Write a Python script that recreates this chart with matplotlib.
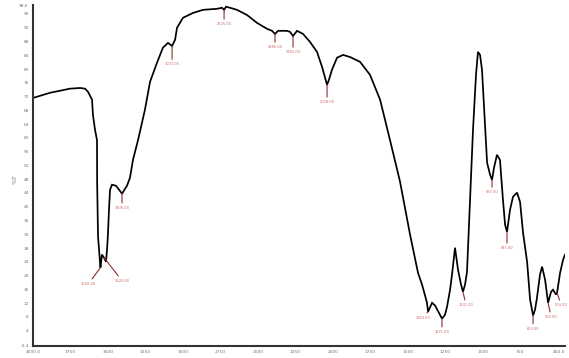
import matplotlib
matplotlib.use("Agg")
import matplotlib.pyplot as plt

# spectrum trace (wavenumber cm-1, %T)
wavenumber = [4000, 3887, 3753, 3686, 3653, 3633, 3606, 3600, 3586, 3573,
              3572, 3566, 3560, 3553, 3550, 3540, 3526, 3513, 3506, 3500,
              3493, 3486, 3473, 3446, 3406, 3373, 3353, 3333, 3299, 3253,
              3219, 3173, 3133, 3099, 3072, 3052, 3039, 2999, 2932, 2866,
              2772, 2739, 2725, 2712, 2685, 2639, 2572, 2505, 2439, 2405,
              2385, 2365, 2305, 2285, 2265, 2238, 2198, 2152, 2105, 2071,
              2051, 2038, 2025, 2005, 1971, 1931, 1885, 1818, 1751, 1684,
              1618, 1551, 1484, 1431, 1404, 1371, 1364, 1337, 1317, 1284,
              1271, 1251, 1237, 1217, 1204, 1184, 1164, 1144, 1131, 1117,
              1104, 1084, 1064, 1044, 1031, 1017, 1004, 984, 970, 950,
              937, 924, 904, 884, 864, 850, 837, 817, 797, 770,
              750, 730, 703, 683, 663, 650, 637, 617, 603, 583,
              563, 543, 530, 510, 503, 483, 463, 450]
transmittance = [71.6, 73.1, 74.3, 74.5, 74.3, 73.4, 71.1, 66.7, 62.3, 59.4,
                 47.0, 31.3, 28.1, 24.0, 22.3, 26.1, 25.2, 24.0, 27.5, 31.9,
                 39.1, 44.9, 46.4, 46.1, 43.8, 46.1, 48.4, 53.6, 59.4, 68.2,
                 76.3, 81.8, 86.2, 87.6, 86.7, 88.5, 92.0, 94.9, 96.3, 97.2,
                 97.5, 97.8, 97.2, 98.1, 97.8, 97.2, 95.7, 93.4, 91.7, 91.1,
                 90.2, 91.1, 91.1, 90.8, 89.6, 91.1, 90.2, 87.9, 85.0, 80.6,
                 77.4, 75.4, 76.9, 79.8, 83.3, 84.1, 83.5, 82.1, 78.3, 71.1,
                 59.4, 47.3, 31.9, 20.8, 17.4, 12.1, 9.5, 12.1, 11.3, 8.6,
                 7.5, 8.6, 11.0, 15.9, 20.3, 28.1, 21.7, 17.4, 15.3, 17.4,
                 21.1, 42.0, 62.3, 78.3, 85.0, 84.1, 79.8, 63.8, 52.8, 49.3,
                 47.8, 51.3, 55.1, 53.6, 42.0, 34.8, 32.7, 39.1, 42.9, 44.1,
                 41.4, 32.4, 24.0, 13.0, 8.4, 10.1, 13.6, 20.3, 22.6, 18.8,
                 12.1, 15.3, 15.9, 14.5, 15.0, 20.8, 24.6, 26.1]

# labelled bands
peak_wn = [3550, 3526, 3406, 3072, 2725, 2385, 2265, 2038, 1364, 1271,
           1131, 937, 837, 663, 563, 503]
peak_t = [22.3, 25.2, 43.8, 86.7, 97.2, 90.2, 89.6, 75.4, 9.5, 7.5,
          15.3, 47.8, 32.7, 8.4, 12.1, 15.0]
peak_offsets = [(-12, -14), (18, -21), (0, -12), (0, -16), (0, -12), (0, -11),
                (0, -14), (0, -15), (-5, -4), (0, -11), (3, -11), (0, -10),
                (0, -14), (0, -11), (3, -12), (4, -10)]

x_ticks = [4000, 3750, 3500, 3250, 3000, 2750, 2500, 2250, 2000, 1750,
           1500, 1250, 1000, 750, 450]
x_ticklabels = ["4000.0", "3750", "3500", "3250", "3000", "2750", "2500",
                "2250", "2000", "1750", "1500", "1250", "1000", "750", "450.0"]
y_ticks = [-0.4] + list(range(4, 97, 4)) + [98.6]
y_ticklabels = ["-0.4"] + [str(v) for v in range(4, 97, 4)] + ["98.6"]

fig = plt.figure(figsize=(5.69, 3.58), dpi=100)
ax = fig.add_axes([0.058, 0.034, 0.935, 0.952])

ax.plot(wavenumber, transmittance, color="black", lw=1.25, solid_joinstyle="miter")

for wn, t, off in zip(peak_wn, peak_t, peak_offsets):
    ax.annotate(f"{wn:.2f}", xy=(wn, t), xytext=off, textcoords="offset pixels",
                ha="center", va="top", fontsize=2.6, color="#d06a6a",
                arrowprops=dict(arrowstyle="-", color="#8b2e2e", lw=0.8,
                                shrinkA=0, shrinkB=0))

ax.set_xlim(4000, 450)
ax.set_ylim(-0.4, 98.6)
ax.set_xticks(x_ticks)
ax.set_xticklabels(x_ticklabels)
ax.set_yticks(y_ticks)
ax.set_yticklabels(y_ticklabels)
ax.tick_params(length=0, labelsize=3.2, labelcolor="#777777", pad=3)
ax.get_xticklabels()[-1].set_ha("right")

for side in ("top", "right"):
    ax.spines[side].set_visible(False)
for side in ("left", "bottom"):
    ax.spines[side].set_color("#333333")
    ax.spines[side].set_linewidth(1.5)

fig.text(0.027, 0.5, "%T", rotation=90, fontsize=4.5, color="#777777",
         ha="center", va="center")

fig.savefig("out.png", dpi=100)
